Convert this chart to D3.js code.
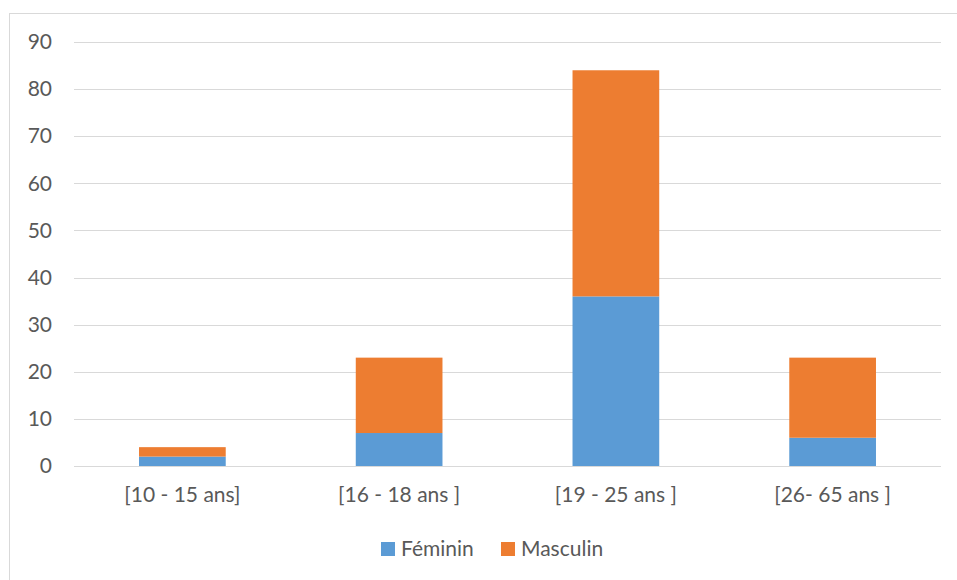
<!DOCTYPE html>
<html><head><meta charset="utf-8">
<script src="https://cdn.jsdelivr.net/npm/d3@7"></script>
<style>body{margin:0;background:#fff;} svg{display:block;} text{font-family:Lato,"Open Sans",sans-serif;fill:#595959;}</style>
</head><body>
<svg id="c" width="957" height="580"></svg>
<script>
const categories = ["[10 - 15 ans]", "[16 - 18 ans ]", "[19 - 25 ans ]", "[26- 65 ans ]"];
const seriesNames = ["Féminin", "Masculin"];
const feminin = [2, 7, 36, 6];
const masculin = [2, 16, 48, 17];
const yTicks = [0, 10, 20, 30, 40, 50, 60, 70, 80, 90];
const colors = ["#5B9BD5", "#ED7D31"];

(function () {
const FONT = 'Lato,"Open Sans",sans-serif';
const FS = 21;
const svg = d3.select("#c");
svg.append("rect").attr("x", 9.5).attr("y", 13.5).attr("width", 960).attr("height", 580)
  .attr("fill", "none").attr("stroke", "#d9d9d9");

const pl = 74, pr = 941, pt = 42, pb = 466;
const x = d3.scaleBand().domain(categories).range([pl, pr]).paddingInner(0.6).paddingOuter(0.3);
const y = d3.scaleLinear().domain([0, 90]).range([pb, pt]);

svg.append("g").selectAll("line").data(yTicks).join("line")
  .attr("x1", pl).attr("x2", pr)
  .attr("y1", d => Math.round(y(d)) + 0.5).attr("y2", d => Math.round(y(d)) + 0.5)
  .attr("stroke", "#d9d9d9").attr("stroke-width", 1);

const yAxis = d3.axisLeft(y).tickValues(yTicks).tickSize(0).tickPadding(0);
const ya = svg.append("g").attr("transform", `translate(52,0)`).call(yAxis)
  .attr("font-size", FS).attr("font-family", FONT);
ya.select(".domain").remove();
ya.selectAll("text").style("font-size", FS + "px").style("fill", "#595959").style("font-family", FONT);

const data = categories.map((c, i) => ({cat: c, "Féminin": feminin[i], "Masculin": masculin[i]}));
const stacked = d3.stack().keys(seriesNames)(data);
svg.append("g").selectAll("g").data(stacked).join("g")
  .attr("fill", (d, i) => colors[i])
  .selectAll("rect").data(d => d).join("rect")
  .attr("x", d => x(d.data.cat)).attr("width", x.bandwidth())
  .attr("y", d => y(d[1])).attr("height", d => y(d[0]) - y(d[1]));

svg.append("line").attr("x1", pl).attr("x2", pr).attr("y1", pb + 0.5).attr("y2", pb + 0.5)
  .attr("stroke", "#d9d9d9");

const xAxis = d3.axisBottom(x).tickSize(0).tickPadding(0);
const xa = svg.append("g").attr("transform", `translate(0,${pb + 21})`).call(xAxis)
  .attr("font-size", FS).attr("font-family", FONT);
xa.select(".domain").remove();
xa.selectAll("text").attr("dy", "0.71em").style("font-size", FS + "px").style("fill", "#595959").style("font-family", FONT);

const legX = [381, 501];
const leg = svg.append("g").selectAll("g").data(seriesNames).join("g")
  .attr("transform", (d, i) => `translate(${legX[i]},542)`);
leg.append("rect").attr("width", 14).attr("height", 14).attr("fill", (d, i) => colors[i]);
leg.append("text").attr("x", 20).attr("y", 7).attr("dy", "0.35em").style("font-size", FS + "px").text(d => d);
})();
</script>
</body></html>
